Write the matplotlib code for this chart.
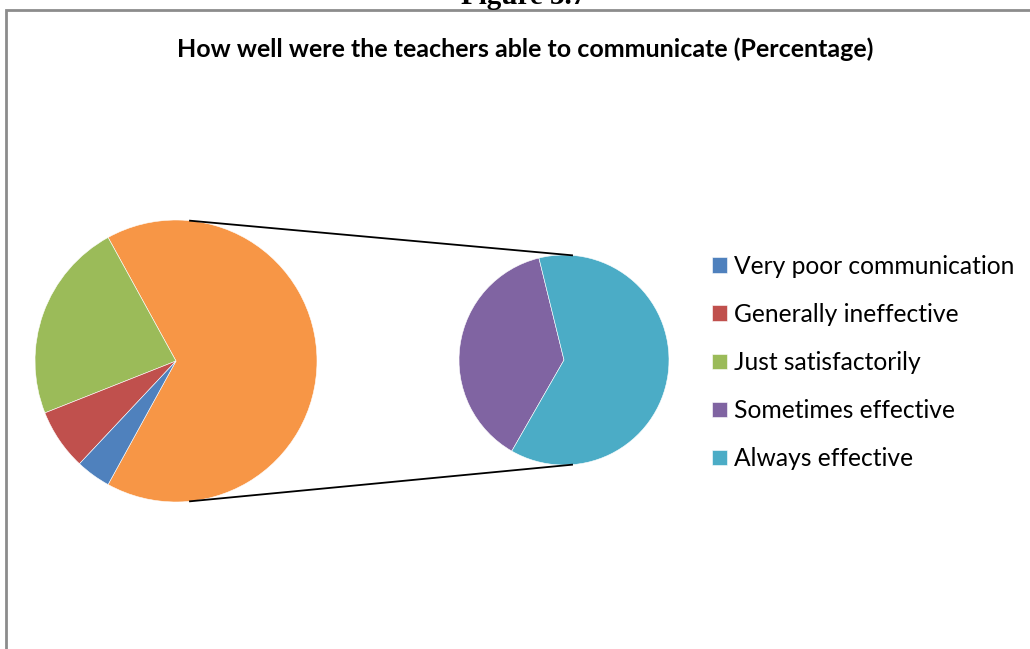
import numpy as np
import matplotlib.pyplot as plt
from matplotlib.patches import Rectangle

plt.rcParams['font.family'] = ['Lato', 'DejaVu Sans']

labels = ["Very poor communication", "Generally ineffective", "Just satisfactorily",
          "Sometimes effective", "Always effective"]
values = [4, 7, 23, 25, 41]
colors = ['#4f81bd', '#c0504d', '#9bbb59', '#8064a2', '#4bacc6']

title = "How well were the teachers able to communicate (Percentage)"

W, H = 1030, 649
fig = plt.figure(figsize=(W / 100, H / 100), dpi=100)
ax = fig.add_axes([0, 0, 1, 1])

# primary pie: three small categories + "other"
other = sum(values[3:])
main_vals = [other, values[2], values[1], values[0]]
main_cols = ['#f79646', colors[2], colors[1], colors[0]]
c1, r1 = (176, H - 361), 141
w1, _ = ax.pie(main_vals, colors=main_cols, center=c1, radius=r1,
               startangle=-other / 100 * 180, counterclock=True,
               wedgeprops=dict(linewidth=0.4, edgecolor='white'), frame=True)

# secondary pie, splitting the "other" slice
sec = values[3:]
c2, r2 = (564, H - 360), 105
ang = sec[0] / other * 360
w2, _ = ax.pie(sec, colors=colors[3:], center=c2, radius=r2,
               startangle=172 - ang / 2, counterclock=True,
               wedgeprops=dict(linewidth=0.4, edgecolor='white'), frame=True)
ax.set_xlim(0, W)
ax.set_ylim(0, H)
ax.set_aspect('equal')
ax.axis('off')

# connector lines
for a1, a2 in [(84.3, 85.6), (-84.3, -85.6)]:
    p = (c1[0] + r1 * np.cos(np.radians(a1)), c1[1] + r1 * np.sin(np.radians(a1)))
    q = (c2[0] + r2 * np.cos(np.radians(a2)), c2[1] + r2 * np.sin(np.radians(a2)))
    ax.plot([p[0], q[0]], [p[1], q[1]], color='black', lw=1.3)

# chart frame (runs off the right and bottom edges)
ax.add_patch(Rectangle((6, -20), W + 20, H - 10 + 20, fill=False,
                       edgecolor='#8c8c8c', lw=2))

ax.text(525, H - 49, title, ha='center', va='center', fontsize=18,
        fontweight='bold')
ax.text(524, H + 4, "Figure 3.7", ha='center', va='center', fontsize=21,
        fontweight='bold', family='Liberation Serif', clip_on=False)

handles = [w1[3], w1[2], w1[1], w2[0], w2[1]]
fig.legend(handles, labels, loc='upper left', bbox_to_anchor=(702 / W, 1 - 245 / H),
           frameon=False, fontsize=17.7, handlelength=0.6, handleheight=0.6,
           handletextpad=0.32, labelspacing=1.02, borderaxespad=0)

fig.savefig('out.png', dpi=100)
